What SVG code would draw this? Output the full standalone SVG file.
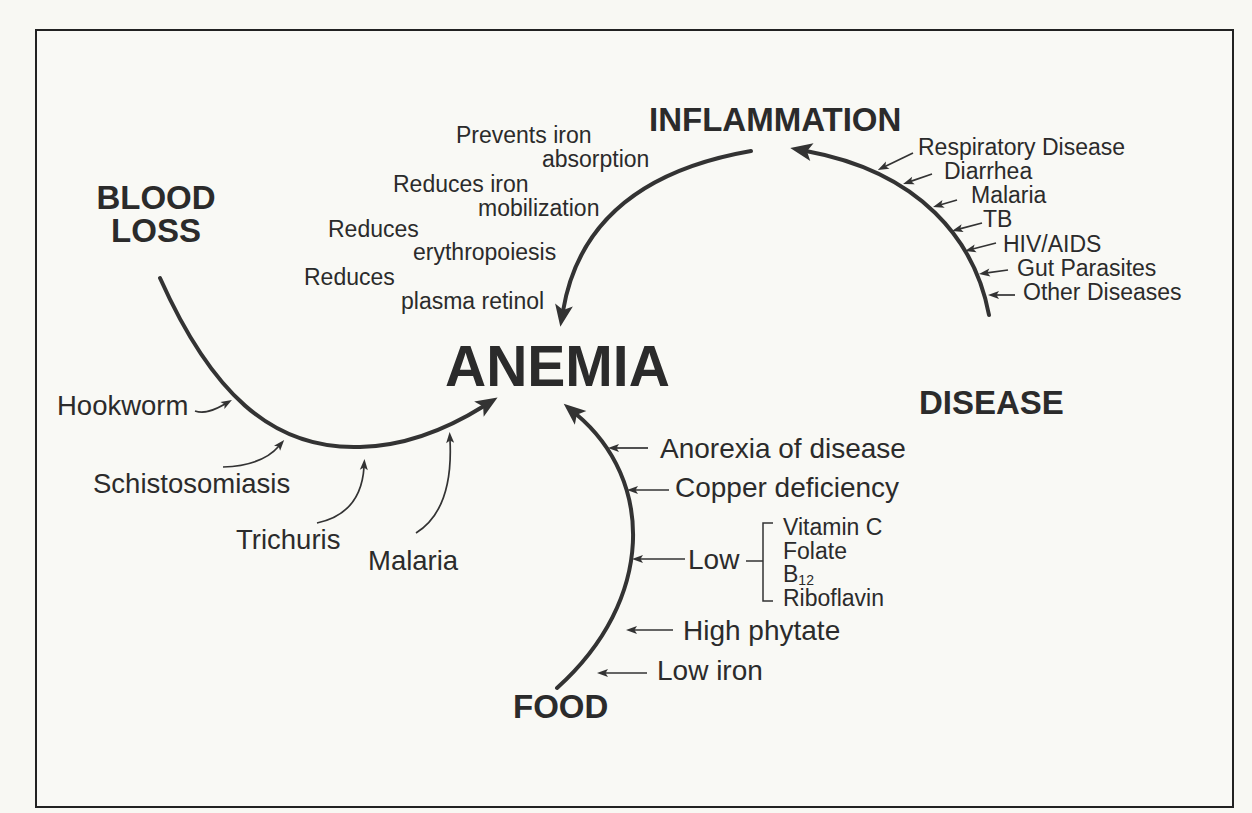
<svg xmlns="http://www.w3.org/2000/svg" width="1252" height="813" viewBox="0 0 1252 813">
  <defs>
    <marker id="big" markerUnits="userSpaceOnUse" markerWidth="24" markerHeight="20" refX="6" refY="9" orient="auto" overflow="visible">
      <path d="M0,0 L22,9 L0,18 L5,9 z" fill="#333"/>
    </marker>
    <marker id="small" markerUnits="userSpaceOnUse" markerWidth="12" markerHeight="10" refX="3" refY="4" orient="auto" overflow="visible">
      <path d="M0,0 L11,4 L0,8 L2.5,4 z" fill="#333"/>
    </marker>
    <style>
      text { font-family: "Liberation Sans", Arial, Helvetica, sans-serif; fill: #2b2b2b; }
      .head { font-weight: bold; font-size: 33px; }
      .big { font-weight: bold; font-size: 57px; }
      .mid { font-size: 23px; }
      .dis { font-size: 23px; }
      .lab { font-size: 27.5px; }
      .food { font-size: 28px; }
      .vit { font-size: 23px; }
      .sub { font-size: 14px; }
      .main { fill: none; stroke: #333; stroke-width: 4; stroke-linecap: round; marker-end: url(#big); }
      .thin { fill: none; stroke: #333; stroke-width: 1.7; marker-end: url(#small); }
      .br { fill: none; stroke: #333; stroke-width: 1.5; }
    </style>
  </defs>

  <rect x="0" y="0" width="1252" height="813" fill="#f8f8f3"/>
  <rect id="frame" x="36" y="30" width="1197" height="777" fill="#f9f9f5" stroke="#222" stroke-width="2"/>

  <g id="connectors">
    <!-- main cycle arrows -->
    <path id="c-bloodloss" class="main" d="M160,278 C210,390 270,450 360,447 C410,446 452,426 484,406"/>
    <path id="c-inflammation" class="main" d="M751,151 Q585,180 563,311"/>
    <path id="c-disease" class="main" d="M989,315 C975,240 920,172 806,151"/>
    <path id="c-food" class="main" d="M557,688 C655,600 655,480 576,414"/>

    <!-- disease inputs -->
    <path class="thin" d="M913,153 L885,166.5"/>
    <path class="thin" d="M932,174 L910.6,181.4"/>
    <path class="thin" d="M957,200 L940.7,204.8"/>
    <path class="thin" d="M982,223 L959.7,228.9"/>
    <path class="thin" d="M996,243 L972.7,249"/>
    <path class="thin" d="M1008,270 L986.9,272.9"/>
    <path class="thin" d="M1015,295 L996,295"/>

    <!-- blood loss inputs -->
    <path class="thin" d="M195,411 C204,414 213,411 225,404"/>
    <path class="thin" d="M223,467 C250,466 268,459 279,446"/>
    <path class="thin" d="M317,523 C345,517 362,500 364,467"/>
    <path class="thin" d="M416,533 C445,515 452,480 450,440"/>

    <!-- food inputs -->
    <path class="thin" d="M648,448 L616,448"/>
    <path class="thin" d="M669,490 L635,490"/>
    <path class="thin" d="M685,559 L640,559"/>
    <path class="thin" d="M673,630 L634,630"/>
    <path class="thin" d="M647,673 L605,673"/>

    <!-- bracket -->
    <path class="br" d="M746,561 L763,561 M773,523 L763,523 L763,601 L773,601"/>
  </g>

  <g id="node-bloodloss">
    <text class="head" x="156" y="209" text-anchor="middle">BLOOD<tspan x="156" dy="33">LOSS</tspan></text>
  </g>
  <g id="node-inflammation">
    <text class="head" x="649" y="131">INFLAMMATION</text>
  </g>
  <g id="node-anemia">
    <text class="big" x="445" y="386">ANEMIA</text>
  </g>
  <g id="node-disease">
    <text class="head" x="919" y="414">DISEASE</text>
  </g>
  <g id="node-food">
    <text class="head" x="513" y="718">FOOD</text>
  </g>

  <g id="inflammation-effects">
    <text class="mid" x="456" y="143">Prevents iron</text>
    <text class="mid" x="542" y="167">absorption</text>
    <text class="mid" x="393" y="192">Reduces iron</text>
    <text class="mid" x="478" y="216">mobilization</text>
    <text class="mid" x="328" y="237">Reduces</text>
    <text class="mid" x="413" y="260">erythropoiesis</text>
    <text class="mid" x="304" y="285">Reduces</text>
    <text class="mid" x="401" y="309">plasma retinol</text>
  </g>

  <g id="disease-causes">
    <text class="dis" x="918" y="155">Respiratory Disease</text>
    <text class="dis" x="944" y="179">Diarrhea</text>
    <text class="dis" x="971" y="203">Malaria</text>
    <text class="dis" x="983" y="227">TB</text>
    <text class="dis" x="1003" y="252">HIV/AIDS</text>
    <text class="dis" x="1017" y="276">Gut Parasites</text>
    <text class="dis" x="1023" y="300">Other Diseases</text>
  </g>

  <g id="bloodloss-causes">
    <text class="lab" x="57" y="415">Hookworm</text>
    <text class="lab" x="93" y="493">Schistosomiasis</text>
    <text class="lab" x="236" y="549">Trichuris</text>
    <text class="lab" x="368" y="570">Malaria</text>
  </g>

  <g id="food-causes">
    <text class="food" x="660" y="458">Anorexia of disease</text>
    <text class="food" x="675" y="497">Copper deficiency</text>
    <text class="food" x="688" y="569">Low</text>
    <text class="food" x="683" y="640">High phytate</text>
    <text class="food" x="657" y="680">Low iron</text>
  </g>

  <g id="low-nutrients">
    <text class="vit" x="783" y="535">Vitamin C</text>
    <text class="vit" x="783" y="559">Folate</text>
    <text class="vit" x="783" y="582">B<tspan class="sub" dy="3">12</tspan></text>
    <text class="vit" x="783" y="606">Riboflavin</text>
  </g>
</svg>
